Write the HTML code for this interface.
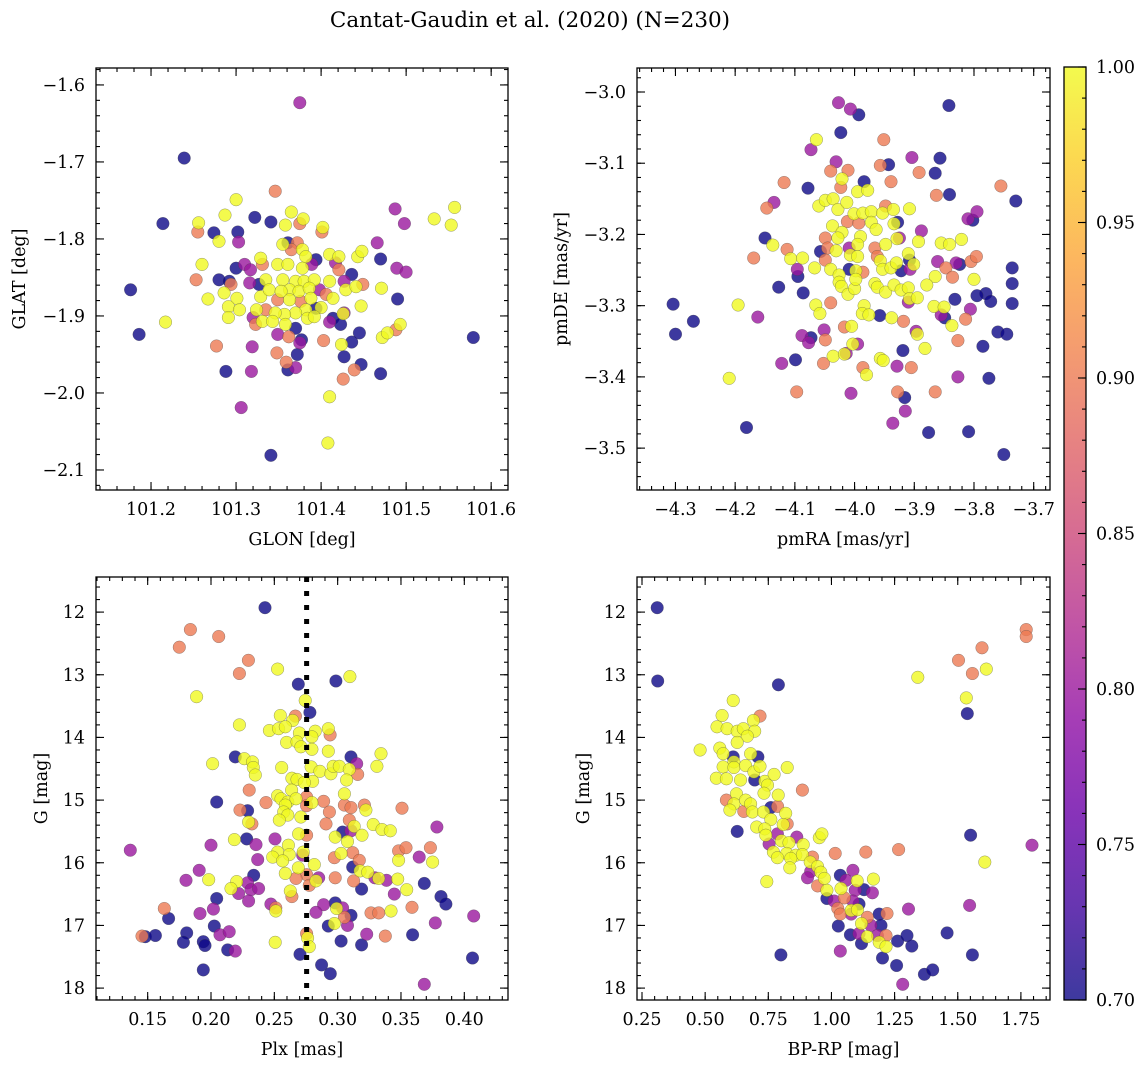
<!DOCTYPE html>
<html><head><meta charset="utf-8">
<style>
html,body{margin:0;padding:0;background:#fff;}
svg{display:block;font-family:"DejaVu Serif","Liberation Serif",serif;}
</style></head>
<body>
<svg id="fig" width="1148" height="1067" viewBox="0 0 1148 1067" xmlns="http://www.w3.org/2000/svg">
<defs>
<linearGradient id="plasmaGrad" x1="0" y1="1" x2="0" y2="0">
<stop offset="0" stop-color="#0d0887"/><stop offset="0.1" stop-color="#41049d"/><stop offset="0.2" stop-color="#6a00a8"/><stop offset="0.3" stop-color="#8f0da4"/><stop offset="0.4" stop-color="#b12a90"/><stop offset="0.5" stop-color="#cc4778"/><stop offset="0.6" stop-color="#e16462"/><stop offset="0.7" stop-color="#f2844b"/><stop offset="0.8" stop-color="#fca636"/><stop offset="0.9" stop-color="#fcce25"/><stop offset="1" stop-color="#f0f921"/>
</linearGradient>
</defs>
<text x="530" y="27" font-size="21.5" text-anchor="middle">Cantat-Gaudin et al. (2020) (N=230)</text>
</svg>
<script>
// ---- Panel 1: GLON / GLAT ----
const p1X=[101.375,101.239,101.346,101.300,101.287,101.322,101.341,101.365,101.379,101.375,101.358,101.402,101.401,101.214,101.256,101.255,101.274,101.280,101.302,101.303,101.487,101.498,101.533,101.557,101.553,101.466,101.470,101.489,101.500,101.471,101.490,101.447,101.176,101.186,101.217,101.260,101.253,101.267,101.280,101.292,101.294,101.286,101.300,101.310,101.317,101.327,101.316,101.301,101.291,101.304,101.291,101.329,101.331,101.335,101.329,101.339,101.349,101.355,101.361,101.372,101.378,101.382,101.365,101.361,101.378,101.394,101.389,101.370,101.355,101.380,101.392,101.363,101.353,101.374,101.386,101.349,101.363,101.376,101.388,101.398,101.406,101.400,101.394,101.382,101.370,101.357,101.346,101.335,101.324,101.320,101.323,101.331,101.343,101.358,101.370,101.384,101.392,101.410,101.421,101.417,101.421,101.436,101.427,101.410,101.414,101.429,101.441,101.449,101.443,101.448,101.414,101.410,101.423,101.427,101.426,101.445,101.436,101.424,101.403,101.427,101.447,101.439,101.426,101.470,101.472,101.478,101.488,101.493,101.579,101.349,101.362,101.377,101.375,101.319,101.277,101.348,101.372,101.359,101.361,101.370,101.318,101.288,101.306,101.410,101.408,101.341];
const p1Y=[-1.623,-1.695,-1.738,-1.749,-1.769,-1.772,-1.778,-1.765,-1.774,-1.780,-1.782,-1.785,-1.791,-1.780,-1.779,-1.791,-1.792,-1.803,-1.791,-1.804,-1.761,-1.780,-1.774,-1.759,-1.782,-1.805,-1.826,-1.838,-1.843,-1.864,-1.878,-1.887,-1.866,-1.924,-1.908,-1.833,-1.853,-1.878,-1.853,-1.855,-1.859,-1.870,-1.838,-1.833,-1.840,-1.859,-1.857,-1.877,-1.888,-1.892,-1.902,-1.825,-1.833,-1.853,-1.875,-1.866,-1.833,-1.807,-1.805,-1.805,-1.814,-1.823,-1.814,-1.833,-1.838,-1.827,-1.833,-1.855,-1.853,-1.855,-1.853,-1.866,-1.868,-1.868,-1.864,-1.879,-1.879,-1.881,-1.877,-1.866,-1.872,-1.889,-1.890,-1.892,-1.896,-1.898,-1.896,-1.892,-1.892,-1.902,-1.911,-1.907,-1.907,-1.911,-1.916,-1.903,-1.901,-1.820,-1.823,-1.831,-1.840,-1.846,-1.855,-1.855,-1.877,-1.866,-1.862,-1.859,-1.823,-1.816,-1.903,-1.908,-1.911,-1.896,-1.897,-1.922,-1.934,-1.937,-1.932,-1.953,-1.963,-1.970,-1.982,-1.975,-1.928,-1.922,-1.918,-1.911,-1.928,-1.924,-1.927,-1.931,-1.935,-1.940,-1.939,-1.948,-1.950,-1.960,-1.970,-1.967,-1.972,-1.972,-2.019,-2.005,-2.065,-2.081];
const p1P=[0.8,0.7,0.9,1,1,0.7,0.7,1,1,0.9,1,1,0.9,0.7,1,0.9,0.7,1,0.7,0.8,0.8,0.8,1,1,1,0.8,0.7,0.8,0.8,1,0.7,1,0.7,0.7,1,1,0.9,1,0.7,0.7,0.9,1,0.7,0.8,0.8,0.7,0.8,1,1,1,1,1,0.9,1,1,1,1,1,0.7,0.9,1,1,0.9,1,1,0.7,0.8,1,1,1,1,1,1,1,1,0.9,1,0.9,1,0.8,0.9,1,0.7,1,1,1,1,0.9,1,0.8,0.9,1,1,1,0.7,1,1,1,1,0.8,0.9,0.7,0.8,1,1,1,1,0.9,1,1,0.7,0.8,0.7,0.8,1,0.7,0.7,1,0.9,0.7,0.7,0.9,0.9,0.7,1,1,0.9,1,0.7,0.8,0.9,0.7,0.8,0.8,0.9,0.9,0.7,0.9,0.7,0.8,0.8,0.7,0.8,1,1,0.7];

// ---- Panel 2: pmRA / pmDE ----
const p2X=[-4.027,-4.007,-3.993,-3.842,-4.023,-4.064,-4.073,-3.951,-3.904,-3.857,-4.031,-4.040,-4.011,-4.021,-3.957,-3.943,-3.892,-3.865,-3.984,-3.939,-4.118,-4.078,-4.023,-3.995,-3.978,-3.863,-3.841,-3.755,-3.730,-4.135,-4.147,-4.060,-4.049,-4.036,-4.028,-4.013,-4.001,-3.986,-3.972,-3.953,-3.948,-3.935,-3.908,-4.012,-3.993,-3.972,-3.964,-4.037,-4.021,-4.028,-4.049,-3.990,-3.928,-3.934,-3.925,-3.929,-3.948,-3.888,-3.893,-3.855,-3.841,-3.821,-3.810,-3.802,-3.795,-4.150,-4.137,-4.113,-4.107,-4.087,-4.169,-4.057,-4.045,-4.031,-4.009,-3.995,-4.007,-3.995,-3.966,-3.962,-4.049,-4.040,-4.026,-4.009,-3.998,-3.986,-3.957,-3.953,-3.939,-3.930,-3.922,-3.910,-3.908,-3.907,-3.901,-3.861,-3.830,-3.824,-3.847,-3.836,-3.805,-3.796,-3.800,-3.865,-3.879,-3.736,-3.736,-3.736,-3.780,-3.772,-3.795,-3.832,-3.806,-3.814,-4.096,-4.095,-4.067,-4.127,-4.086,-4.026,-4.022,-4.011,-4.000,-3.998,-3.966,-3.962,-3.948,-3.934,-3.922,-3.910,-3.908,-3.910,-3.895,-4.065,-4.058,-4.040,-3.984,-3.987,-3.976,-3.958,-3.938,-3.867,-3.850,-3.855,-3.849,-3.837,-3.918,-4.195,-4.304,-4.270,-4.300,-4.162,-4.051,-4.049,-4.017,-4.005,-4.088,-4.077,-4.073,-3.995,-4.003,-3.897,-3.895,-3.882,-3.919,-3.827,-3.785,-3.760,-3.745,-4.036,-4.014,-4.017,-4.099,-4.122,-4.052,-3.957,-3.952,-3.986,-3.980,-3.929,-3.905,-4.210,-4.097,-4.006,-3.928,-3.916,-3.865,-3.827,-3.775,-3.915,-3.936,-4.181,-3.876,-3.809,-3.750];
const p2Y=[-3.015,-3.024,-3.032,-3.019,-3.057,-3.067,-3.081,-3.067,-3.092,-3.093,-3.098,-3.111,-3.110,-3.122,-3.103,-3.102,-3.113,-3.114,-3.126,-3.126,-3.127,-3.135,-3.134,-3.140,-3.138,-3.145,-3.144,-3.132,-3.153,-3.155,-3.163,-3.160,-3.152,-3.150,-3.165,-3.155,-3.171,-3.170,-3.168,-3.170,-3.160,-3.165,-3.164,-3.182,-3.184,-3.183,-3.193,-3.188,-3.197,-3.205,-3.205,-3.203,-3.183,-3.185,-3.205,-3.206,-3.214,-3.195,-3.210,-3.212,-3.214,-3.207,-3.178,-3.180,-3.168,-3.205,-3.215,-3.221,-3.234,-3.233,-3.233,-3.224,-3.219,-3.223,-3.219,-3.214,-3.229,-3.231,-3.219,-3.231,-3.236,-3.249,-3.257,-3.249,-3.251,-3.253,-3.237,-3.249,-3.247,-3.240,-3.251,-3.227,-3.236,-3.249,-3.242,-3.238,-3.240,-3.242,-3.247,-3.260,-3.238,-3.231,-3.263,-3.259,-3.271,-3.247,-3.269,-3.297,-3.283,-3.294,-3.286,-3.291,-3.305,-3.319,-3.249,-3.259,-3.247,-3.274,-3.282,-3.267,-3.273,-3.284,-3.276,-3.263,-3.269,-3.274,-3.281,-3.271,-3.278,-3.275,-3.290,-3.295,-3.289,-3.299,-3.311,-3.296,-3.300,-3.311,-3.313,-3.314,-3.317,-3.301,-3.302,-3.313,-3.317,-3.328,-3.322,-3.299,-3.298,-3.322,-3.340,-3.316,-3.334,-3.348,-3.330,-3.329,-3.342,-3.352,-3.345,-3.354,-3.354,-3.336,-3.340,-3.360,-3.363,-3.349,-3.357,-3.337,-3.340,-3.371,-3.367,-3.368,-3.376,-3.381,-3.381,-3.374,-3.377,-3.387,-3.397,-3.385,-3.387,-3.402,-3.421,-3.423,-3.421,-3.429,-3.421,-3.400,-3.402,-3.448,-3.465,-3.471,-3.478,-3.477,-3.509];
const p2P=[0.8,0.8,0.7,0.7,0.7,1,0.8,0.9,0.8,0.7,0.8,0.9,0.9,1,0.9,0.7,0.9,0.7,0.7,0.9,0.9,0.7,0.9,1,1,0.9,0.7,0.9,0.7,0.8,0.9,1,1,1,1,1,1,1,1,1,0.9,1,1,0.9,0.9,1,1,1,1,1,0.9,1,0.7,1,0.8,1,1,0.8,1,1,1,1,0.8,0.7,0.8,0.7,1,0.9,1,1,0.9,0.7,0.9,1,0.8,1,1,1,0.9,0.9,0.9,1,1,0.7,1,0.9,1,1,1,1,0.7,1,0.7,0.8,1,0.8,0.8,0.7,0.9,0.9,0.9,0.9,1,1,1,0.7,0.7,0.7,0.7,0.7,0.7,0.7,0.8,0.9,0.8,0.7,1,0.7,0.7,1,1,1,1,1,1,1,1,1,1,1,1,0.8,1,1,1,0.9,1,1,1,0.7,1,1,1,0.8,0.7,1,0.9,1,0.7,0.7,0.7,0.8,0.8,0.9,0.9,1,0.8,0.8,0.7,0.8,1,0.8,1,1,0.7,0.9,0.7,0.7,0.7,1,0.8,1,0.7,0.8,0.9,1,1,0.9,1,0.8,0.9,1,0.9,0.8,0.9,0.7,0.9,0.8,0.7,0.8,0.8,0.7,0.7,0.7,0.7];

// ---- Panel 3: Plx / G ----
const p3X=[0.2426,0.1837,0.2061,0.1750,0.2295,0.2224,0.2526,0.2689,0.2986,0.3097,0.1886,0.2744,0.2781,0.2666,0.2547,0.2645,0.2224,0.2461,0.2534,0.2587,0.2698,0.2823,0.2797,0.2926,0.2940,0.2597,0.2679,0.2710,0.2797,0.2926,0.2192,0.2263,0.2328,0.2013,0.2334,0.2350,0.2558,0.2790,0.2860,0.2947,0.2965,0.3013,0.3105,0.3150,0.3092,0.3158,0.3071,0.3310,0.3342,0.2639,0.2679,0.2802,0.2737,0.2302,0.2636,0.3053,0.2526,0.2553,0.2606,0.2671,0.2755,0.2797,0.2889,0.2434,0.2045,0.2229,0.2289,0.2587,0.2574,0.2606,0.2710,0.2755,0.2935,0.3053,0.3105,0.3211,0.3223,0.3508,0.2297,0.2323,0.2539,0.2908,0.3092,0.3131,0.3039,0.3105,0.3281,0.3350,0.3416,0.3784,0.2692,0.2755,0.2981,0.3078,0.3192,0.2185,0.2282,0.2355,0.2505,0.2000,0.1363,0.2611,0.2526,0.2618,0.2487,0.2565,0.2728,0.2724,0.2369,0.2974,0.3027,0.3119,0.3171,0.3481,0.3540,0.3732,0.3481,0.3644,0.3750,0.2816,0.2689,0.3119,0.3177,0.3237,0.1907,0.2587,0.2755,0.2337,0.2671,0.2850,0.2829,0.2981,0.3126,0.3294,0.3324,0.3386,0.3474,0.1803,0.1982,0.2203,0.2289,0.2776,0.3545,0.3684,0.2158,0.2218,0.2316,0.2376,0.2626,0.2639,0.3189,0.3447,0.2045,0.2297,0.3816,0.3855,0.2473,0.2512,0.2512,0.2889,0.2981,0.2992,0.3039,0.2829,0.3263,0.3324,0.3421,0.3587,0.4074,0.1631,0.1665,0.1913,0.2019,0.3053,0.3105,0.3771,0.2974,0.2926,0.3078,0.2026,0.1455,0.1481,0.1561,0.1808,0.1782,0.2071,0.2144,0.1939,0.1953,0.2132,0.2192,0.2507,0.2755,0.2763,0.2776,0.2703,0.3229,0.3376,0.3592,0.3027,0.3189,0.4065,0.1939,0.2873,0.2942,0.3684];
const p3Y=[11.93,12.28,12.39,12.56,12.77,12.98,12.91,13.15,13.10,13.03,13.35,13.41,13.60,13.66,13.65,13.73,13.80,13.89,13.86,13.83,13.93,13.90,13.99,13.86,13.96,14.08,14.07,14.15,14.19,14.22,14.31,14.34,14.39,14.42,14.48,14.60,14.48,14.47,14.54,14.58,14.46,14.46,14.31,14.42,14.51,14.59,14.68,14.46,14.26,14.65,14.67,14.70,14.72,14.84,14.84,14.90,14.93,14.98,15.03,14.98,14.95,15.04,15.02,15.04,15.03,15.16,15.17,15.08,15.19,15.24,15.27,15.09,15.19,15.08,15.12,15.08,15.16,15.13,15.35,15.38,15.32,15.38,15.32,15.42,15.51,15.49,15.39,15.47,15.49,15.43,15.54,15.56,15.59,15.66,15.56,15.63,15.62,15.71,15.62,15.72,15.80,15.72,15.83,15.87,15.91,15.97,15.83,15.88,15.95,15.92,15.85,15.84,15.96,15.81,15.76,15.76,15.96,15.91,15.99,16.03,16.08,16.07,16.13,16.15,16.12,16.17,16.19,16.20,16.25,16.24,16.29,16.24,16.29,16.24,16.25,16.28,16.26,16.28,16.27,16.30,16.32,16.36,16.43,16.33,16.41,16.49,16.43,16.41,16.45,16.54,16.42,16.50,16.57,16.61,16.54,16.66,16.66,16.72,16.77,16.67,16.64,16.73,16.72,16.79,16.80,16.80,16.77,16.71,16.85,16.73,16.89,16.81,16.74,16.87,16.84,16.96,16.97,17.01,17.00,17.01,17.17,17.18,17.16,17.12,17.27,17.15,17.10,17.26,17.32,17.39,17.41,17.27,17.13,17.20,17.34,17.46,17.14,17.17,17.15,17.25,17.31,17.52,17.71,17.63,17.77,17.94];
const p3P=[0.7,0.9,0.9,0.9,0.9,0.9,1,0.7,0.7,1,1,1,0.7,0.9,1,1,1,1,1,1,1,1,1,1,0.9,1,1,1,1,1,0.7,1,1,1,1,1,1,1,1,1,1,1,0.7,0.8,1,0.9,1,1,1,1,1,1,1,0.9,1,1,1,1,1,1,0.9,1,0.9,0.9,0.7,0.9,0.7,1,1,1,1,0.9,0.9,0.9,0.9,0.9,1,0.9,1,0.9,1,0.9,0.9,1,0.7,0.8,1,1,1,0.8,1,0.9,1,1,1,1,0.7,0.8,0.8,0.8,0.8,1,1,1,1,1,1,0.8,0.8,0.9,1,0.9,0.9,0.9,0.9,0.9,1,0.8,1,1,1,0.7,1,1,0.8,1,0.9,0.7,0.9,0.8,1,0.9,0.9,0.8,1,0.8,1,0.8,1,1,0.8,0.9,1,0.7,1,0.8,0.8,0.8,1,0.9,0.7,0.8,0.7,0.8,0.7,0.7,0.8,0.9,1,0.8,0.7,1,0.8,0.8,0.9,0.9,1,0.9,0.8,0.9,0.7,0.8,0.8,0.9,0.7,0.8,1,0.7,0.8,0.7,0.9,0.7,0.7,0.7,0.7,0.8,0.8,0.7,0.7,0.7,0.8,1,0.9,1,1,0.7,0.8,0.9,0.7,0.7,0.7,0.7,0.7,0.7,0.7,0.8];

// ---- Panel 4: BP-RP / G ----
const p4X=[0.310,0.312,0.790,1.771,1.771,1.596,1.503,1.558,1.613,1.342,1.534,1.538,0.611,0.567,0.717,0.547,0.587,0.627,0.651,0.691,0.696,0.667,0.627,0.480,0.558,0.571,0.611,0.614,0.680,0.709,0.571,0.614,0.660,0.693,0.717,0.825,0.544,0.584,0.640,0.696,0.736,0.773,0.747,0.885,0.733,0.789,0.624,0.584,0.614,0.660,0.680,0.598,0.653,0.687,0.731,0.760,0.787,0.819,0.760,0.809,0.825,0.704,0.736,0.627,0.740,0.786,0.863,0.952,0.962,0.753,0.802,0.832,0.888,0.770,0.823,0.859,0.885,0.925,0.786,0.839,0.916,1.015,1.136,1.266,0.835,0.945,0.918,0.958,1.035,1.085,0.905,0.972,0.744,1.058,1.102,1.166,0.945,0.982,1.038,1.094,1.129,1.162,0.982,1.011,1.051,1.085,1.109,1.025,1.078,1.103,1.035,1.078,1.142,1.189,1.220,1.305,1.547,1.607,1.551,1.794,1.027,1.119,1.156,1.196,1.075,1.109,1.142,1.182,1.216,1.119,1.189,1.216,1.202,1.262,1.299,1.318,1.458,1.558,0.800,1.035,1.258,1.368,1.401,1.282];
const p4Y=[11.93,13.10,13.16,12.28,12.39,12.57,12.77,12.98,12.91,13.04,13.37,13.62,13.41,13.65,13.66,13.83,13.86,13.90,13.86,13.73,13.90,13.98,14.08,14.20,14.17,14.26,14.31,14.39,14.26,14.31,14.47,14.48,14.45,14.55,14.46,14.48,14.65,14.66,14.68,14.68,14.70,14.59,14.76,14.84,14.89,14.92,14.90,15.00,15.06,15.00,15.06,15.16,15.18,15.19,15.19,15.12,15.10,15.21,15.31,15.39,15.38,15.43,15.46,15.50,15.56,15.54,15.59,15.60,15.54,15.70,15.65,15.68,15.71,15.83,15.85,15.88,15.87,15.91,15.92,15.93,15.99,15.85,15.83,15.79,16.08,16.06,16.14,16.15,16.20,16.12,16.24,16.25,16.30,16.28,16.29,16.26,16.37,16.44,16.41,16.44,16.43,16.48,16.57,16.61,16.56,16.61,16.66,16.73,16.76,16.75,16.82,16.82,16.87,16.82,16.81,16.74,16.68,15.99,15.56,15.72,17.01,16.97,17.00,17.00,17.15,17.13,17.18,17.16,17.16,17.29,17.27,17.34,17.52,17.25,17.16,17.33,17.12,17.47,17.47,17.41,17.64,17.78,17.71,17.94];
const p4P=[0.7,0.7,0.7,0.9,0.9,0.9,0.9,0.9,1,1,1,0.7,1,1,0.9,1,1,1,1,1,1,1,1,1,1,1,0.7,1,1,0.7,1,1,1,1,1,1,1,1,1,0.7,1,1,1,0.9,1,1,1,0.9,1,1,1,1,0.9,1,1,0.7,0.9,1,1,1,0.9,1,1,0.7,1,0.8,0.8,1,1,0.8,1,1,1,1,1,1,1,0.9,1,1,1,0.9,0.9,0.9,1,1,0.8,1,0.7,0.8,0.8,1,1,0.8,1,1,0.9,1,1,0.8,0.7,0.8,0.7,0.8,0.9,0.8,0.7,0.9,1,1,0.9,0.8,0.9,0.7,0.9,0.8,0.8,1,0.7,0.8,0.7,1,0.8,0.7,0.7,0.8,1,0.8,0.9,0.7,1,1,0.7,0.7,0.7,0.7,0.7,0.7,0.7,0.8,0.7,0.7,0.7,0.8];

// ---- Colorbar ----
const cbarTicks=[0.70,0.75,0.80,0.85,0.90,0.95,1.00];
const plxLine=[0.2755];

const NS='http://www.w3.org/2000/svg';
const svg=document.getElementById('fig');
function el(tag,attrs,parent){const e=document.createElementNS(NS,tag);for(const k in attrs)e.setAttribute(k,attrs[k]);(parent||svg).appendChild(e);return e;}
const stops=[[0,[13,8,135]],[0.1,[65,4,157]],[0.2,[106,0,168]],[0.3,[143,13,164]],[0.4,[177,42,144]],[0.5,[204,71,120]],[0.6,[225,100,98]],[0.7,[242,132,75]],[0.8,[252,166,54]],[0.9,[252,206,37]],[1,[240,249,33]]];
function plasma(t){t=Math.max(0,Math.min(1,t));for(let i=1;i<stops.length;i++){if(t<=stops[i][0]){const a=stops[i-1],b=stops[i];const f=(t-a[0])/(b[0]-a[0]);const c=a[1].map((v,j)=>Math.round(v+(b[1][j]-v)*f));return 'rgb('+c.join(',')+')';}}return 'rgb(240,249,33)';}
function fmt(v,d){const s=Math.abs(v).toFixed(d);return (v<-1e-9?'\u2212':'')+s;}
function ticks(a,b,step){const r=[];const s=Math.ceil(a/step-1e-6);for(let i=s;i*step<=b+1e-9;i++)r.push(+(i*step).toFixed(6));return r;}

function panel(cfg,name){
  const g=el('g',{});
  
  
  const {L,T,R,B}=cfg.box;
  const sx=v=>L+(v-cfg.xr[0])/(cfg.xr[1]-cfg.xr[0])*(R-L);
  const sy=v=>T+(v-cfg.yr[0])/(cfg.yr[1]-cfg.yr[0])*(B-T);
  const cp='clip-'+name;
  const clip=el('clipPath',{id:cp},g);el('rect',{x:L,y:T,width:R-L,height:B-T},clip);
  const pts=el('g',{'clip-path':'url(#'+cp+')'},g);
  const idx=cfg.x.map((_,i)=>i).sort((a,b)=>cfg.p[a]-cfg.p[b]);
  idx.forEach(i=>{
    const c=el('circle',{cx:sx(cfg.x[i]).toFixed(1),cy:sy(cfg.y[i]).toFixed(1),r:6.3,fill:plasma((cfg.p[i]-0.7)/0.3),'fill-opacity':0.8,stroke:'#444','stroke-opacity':0.55,'stroke-width':0.5},pts);
    
    
  });
  if(cfg.vline){cfg.vline.forEach(v=>{const ln=el('line',{x1:sx(v),x2:sx(v),y1:T,y2:B,stroke:'#000','stroke-width':5,'stroke-dasharray':'5,9'},pts);
    
    });}
  const tk=el('g',{stroke:'#000','stroke-width':1.1},g);
  ticks(Math.min(...cfg.xr),Math.max(...cfg.xr),cfg.xmin).forEach(v=>{const X=sx(v);el('line',{x1:X,x2:X,y1:B,y2:B-4},tk);el('line',{x1:X,x2:X,y1:T,y2:T+4},tk);});
  ticks(Math.min(...cfg.yr),Math.max(...cfg.yr),cfg.ymin).forEach(v=>{const Y=sy(v);el('line',{x1:L,x2:L+4,y1:Y,y2:Y},tk);el('line',{x1:R,x2:R-4,y1:Y,y2:Y},tk);});
  ticks(Math.min(...cfg.xr),Math.max(...cfg.xr),cfg.xmaj).forEach(v=>{const X=sx(v);el('line',{x1:X,x2:X,y1:B,y2:B-8},tk);el('line',{x1:X,x2:X,y1:T,y2:T+8},tk);
    const t=el('text',{x:X,y:B+25,'font-size':17.5,'text-anchor':'middle'},g);t.textContent=fmt(v,cfg.xd);
    
    });
  ticks(Math.min(...cfg.yr),Math.max(...cfg.yr),cfg.ymaj).forEach(v=>{const Y=sy(v);el('line',{x1:L,x2:L+8,y1:Y,y2:Y},tk);el('line',{x1:R,x2:R-8,y1:Y,y2:Y},tk);
    const t=el('text',{x:L-11,y:Y+6,'font-size':17.5,'text-anchor':'end'},g);t.textContent=fmt(v,cfg.yd);
    
    });
  const fr=el('rect',{x:L,y:T,width:R-L,height:B-T,fill:'none',stroke:'#000','stroke-width':1.3},g);
  
  
  const xl=el('text',{x:(L+R)/2,y:B+55,'font-size':17.5,'text-anchor':'middle'},g);xl.textContent=cfg.xlabel;
  
  
  const yx=cfg.ylx, yc=(T+B)/2;
  const yl=el('text',{x:yx,y:yc,'font-size':17.5,'text-anchor':'middle',transform:'rotate(-90 '+yx+' '+yc+')'},g);yl.textContent=cfg.ylabel;
  
  
}

panel({box:{L:96,T:68,R:508,B:490},xr:[101.1353,101.6198],yr:[-1.578,-2.126],x:p1X,y:p1Y,p:p1P,xmaj:0.1,xmin:0.02,ymaj:0.1,ymin:0.02,xd:1,yd:1,xlabel:'GLON [deg]',ylabel:'GLAT [deg]',ylx:25},'panel-glon-glat');
panel({box:{L:637,T:68,R:1050,B:490},xr:[-4.3644,-3.6727],yr:[-2.9663,-3.5588],x:p2X,y:p2Y,p:p2P,xmaj:0.1,xmin:0.02,ymaj:0.1,ymin:0.02,xd:1,yd:1,xlabel:'pmRA [mas/yr]',ylabel:'pmDE [mas/yr]',ylx:567},'panel-proper-motion');
panel({box:{L:96,T:577,R:508,B:1000},xr:[0.1092,0.4345],yr:[11.44,18.19],x:p3X,y:p3Y,p:p3P,xmaj:0.05,xmin:0.01,ymaj:1,ymin:0.2,xd:2,yd:0,xlabel:'Plx [mas]',ylabel:'G [mag]',ylx:47,vline:plxLine},'panel-parallax-mag');
panel({box:{L:637,T:577,R:1050,B:1000},xr:[0.2302,1.8652],yr:[11.44,18.19],x:p4X,y:p4Y,p:p4P,xmaj:0.25,xmin:0.05,ymaj:1,ymin:0.2,xd:2,yd:0,xlabel:'BP-RP [mag]',ylabel:'G [mag]',ylx:589},'panel-cmd');

(function(){
  const L=1064,R=1086,T=67,B=1000;
  const g=el('g',{});
  
  
  el('rect',{x:L,y:T,width:R-L,height:B-T,fill:'url(#plasmaGrad)','fill-opacity':0.8},g);
  const sy=v=>B-(v-0.7)/0.3*(B-T);
  const tk=el('g',{stroke:'#000','stroke-width':1.1},g);
  ticks(0.7,1.0,0.01).forEach(v=>{const Y=sy(v);el('line',{x1:R,x2:R-4,y1:Y,y2:Y},tk);});
  cbarTicks.forEach(v=>{const Y=sy(v);el('line',{x1:R,x2:R-8,y1:Y,y2:Y},tk);
    const t=el('text',{x:R+10,y:Y+6,'font-size':17.5},g);t.textContent=v.toFixed(2);
    
    });
  el('rect',{x:L,y:T,width:R-L,height:B-T,fill:'none',stroke:'#000','stroke-width':1.3},g);
})();
</script>
</body></html>
